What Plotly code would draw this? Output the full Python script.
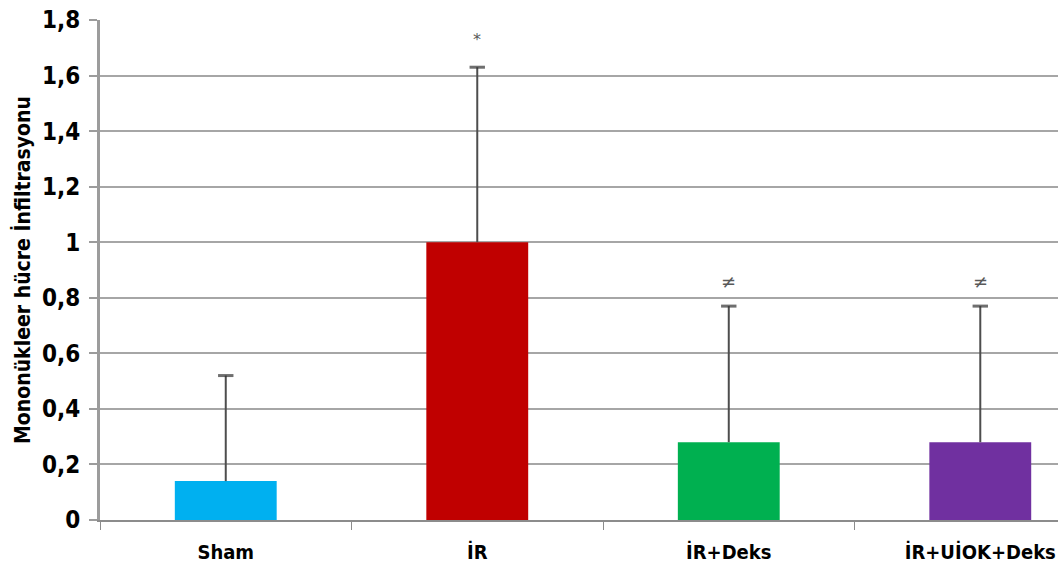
import plotly.graph_objects as go

# Group names, mean values and upper SD for mononuclear cell infiltration
groups = ["Sham", "İR", "İR+Deks", "İR+UİOK+Deks"]
means = [0.14, 1.0, 0.28, 0.28]
upper_sd = [0.38, 0.63, 0.49, 0.49]
bar_colors = ["#00b0f0", "#c00000", "#00b050", "#7030a0"]
marks = ["", "*", "≠", "≠"]
mark_levels = [0, 1.73, 0.86, 0.86]
y_ticks = [0, 0.2, 0.4, 0.6, 0.8, 1.0, 1.2, 1.4, 1.6, 1.8]
y_tick_text = ["0", "0,2", "0,4", "0,6", "0,8", "1", "1,2", "1,4", "1,6", "1,8"]

font_family = "DejaVu Sans Condensed, DejaVu Sans, sans-serif"

fig = go.Figure()
fig.add_trace(go.Bar(
    x=groups,
    y=means,
    marker=dict(color=bar_colors, line=dict(width=0)),
    width=0.405,
    showlegend=False,
    hoverinfo="x+y",
))

# Upper-only error bars: a stem from the bar top with a cap at mean + SD
ex, ey, sizes = [], [], []
for g, m, s in zip(groups, means, upper_sd):
    ex += [g, g, None]
    ey += [m, m + s, None]
    sizes += [0, 11, 0]
fig.add_trace(go.Scatter(
    x=ex, y=ey,
    mode="lines+markers",
    line=dict(color="#4d4d4d", width=2),
    marker=dict(symbol="line-ew", size=sizes, line=dict(color="#333333", width=3)),
    showlegend=False,
    hoverinfo="skip",
))

for g, m, lvl in zip(groups, marks, mark_levels):
    if m:
        fig.add_annotation(
            x=g, y=lvl, text=m, showarrow=False,
            font=dict(family="DejaVu Sans, sans-serif", size=18 if m == "≠" else 16, color="#595959"),
        )

fig.update_layout(
    width=1061,
    height=570,
    margin=dict(l=100, r=3, t=20, b=50, autoexpand=False),
    paper_bgcolor="white",
    plot_bgcolor="white",
    separators=",.",
    font=dict(family=font_family, color="#000000"),
)

fig.update_xaxes(
    type="category",
    range=[-0.5, 3.309],
    tickson="boundaries",
    ticks="outside",
    ticklen=8,
    tickwidth=1,
    tickcolor="#8c8c8c",
    showline=True,
    linecolor="#8c8c8c",
    linewidth=2,
    showgrid=False,
    tickvals=groups,
    ticktext=[f"<b>{g}</b>" for g in groups],
    tickfont=dict(family=font_family, size=20, color="#000000"),
    ticklabelstandoff=13,
    automargin=False,
)

fig.update_yaxes(
    range=[0, 1.8],
    tickvals=y_ticks,
    ticktext=["<b>" + t + "</b>" for t in y_tick_text],
    ticks="outside",
    ticklen=8,
    tickwidth=2,
    tickcolor="#9c9c9c",
    showline=True,
    linecolor="#9c9c9c",
    linewidth=3,
    showgrid=True,
    gridcolor="#a6a6a6",
    gridwidth=2,
    zeroline=False,
    tickfont=dict(family=font_family, size=24, color="#000000"),
    ticklabelstandoff=4,
    automargin=False,
    title=dict(
        text="<b>Mononükleer hücre İnfiltrasyonu</b>",
        font=dict(family=font_family, size=21, color="#000000"),
        standoff=6,
    ),
)

fig.write_html("out.html")
